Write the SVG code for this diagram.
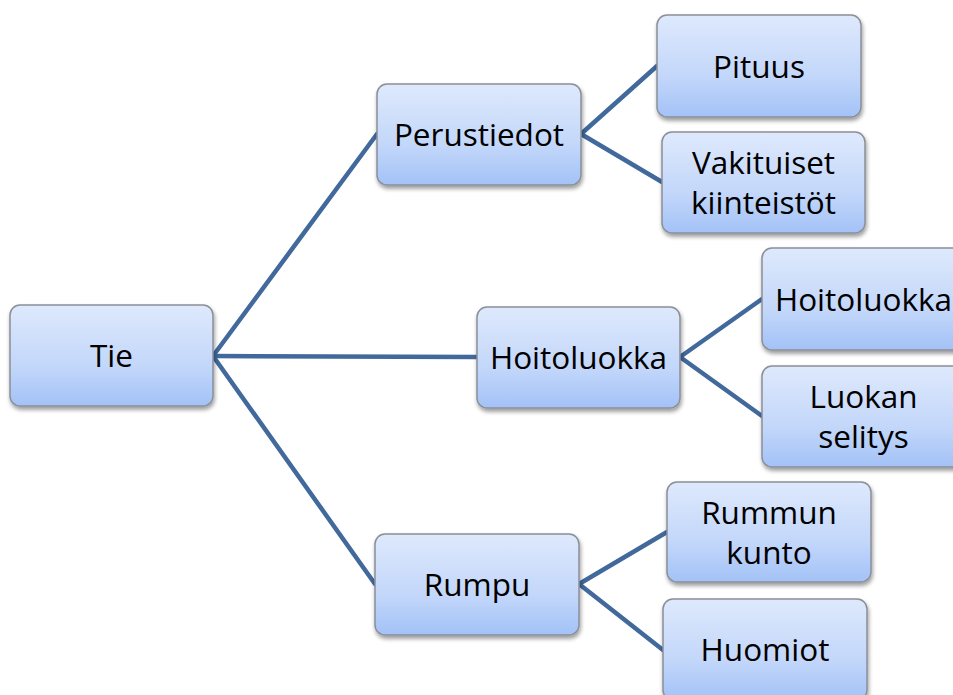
<svg xmlns="http://www.w3.org/2000/svg" width="953" height="695" viewBox="0 0 953 695">
<defs>
<linearGradient id="g" x1="0" y1="0" x2="0" y2="1">
<stop offset="0" stop-color="#dee9fc"/>
<stop offset="0.6" stop-color="#c3d7fa"/>
<stop offset="1" stop-color="#a3c2f7"/>
</linearGradient>
<filter id="sh" x="-10%" y="-10%" width="125%" height="130%">
<feGaussianBlur in="SourceAlpha" stdDeviation="2"/>
<feOffset dx="1" dy="3" result="b"/>
<feComponentTransfer><feFuncA type="linear" slope="0.4"/></feComponentTransfer>
<feMerge><feMergeNode/><feMergeNode in="SourceGraphic"/></feMerge>
</filter>
</defs>
<style>
.box{fill:url(#g);stroke:#8a8f98;stroke-width:1.5;filter:url(#sh)}
.t{font-family:"Open Sans","Liberation Sans",sans-serif;font-size:31.5px;fill:#000;text-anchor:middle}
.c{stroke:#41699c;stroke-width:4.5;fill:none;stroke-linecap:round}
</style>
<rect width="953" height="695" fill="#fff"/>
<g id="connectors">
<line class="c" x1="213" y1="356" x2="377" y2="134"/>
<line class="c" x1="213" y1="356" x2="477" y2="357"/>
<line class="c" x1="213" y1="356" x2="375" y2="584"/>
<line class="c" x1="581" y1="134" x2="657" y2="66"/>
<line class="c" x1="581" y1="134" x2="662" y2="182"/>
<line class="c" x1="680" y1="357" x2="762" y2="299"/>
<line class="c" x1="680" y1="357" x2="762" y2="416"/>
<line class="c" x1="579" y1="584" x2="667" y2="532"/>
<line class="c" x1="579" y1="584" x2="663" y2="650"/>
</g>
<g id="tie"><rect class="box" x="10" y="305" width="203" height="101" rx="10"/><text class="t" x="111.5" y="367">Tie</text></g>
<g id="perustiedot"><rect class="box" x="377" y="84" width="204" height="101" rx="10"/><text class="t" x="479" y="146">Perustiedot</text></g>
<g id="pituus"><rect class="box" x="657" y="15" width="204" height="102" rx="10"/><text class="t" x="759" y="78">Pituus</text></g>
<g id="vakituiset"><rect class="box" x="662" y="132" width="203" height="101" rx="10"/><text class="t" x="763.5" y="174">Vakituiset</text><text class="t" x="763.5" y="214">kiinteistöt</text></g>
<g id="hoitoluokka"><rect class="box" x="477" y="307" width="203" height="101" rx="10"/><text class="t" x="578.5" y="369">Hoitoluokka</text></g>
<g id="hoitoluokka2"><rect class="box" x="762" y="248" width="203" height="102" rx="10"/><text class="t" x="863.5" y="311">Hoitoluokka</text></g>
<g id="luokan"><rect class="box" x="762" y="366" width="203" height="101" rx="10"/><text class="t" x="863.5" y="408">Luokan</text><text class="t" x="863.5" y="448">selitys</text></g>
<g id="rumpu"><rect class="box" x="375" y="534" width="204" height="101" rx="10"/><text class="t" x="477" y="596">Rumpu</text></g>
<g id="rummun"><rect class="box" x="667" y="482" width="204" height="100" rx="10"/><text class="t" x="769" y="524">Rummun</text><text class="t" x="769" y="564">kunto</text></g>
<g id="huomiot"><rect class="box" x="663" y="599" width="204" height="101" rx="10"/><text class="t" x="765" y="661">Huomiot</text></g>
</svg>
